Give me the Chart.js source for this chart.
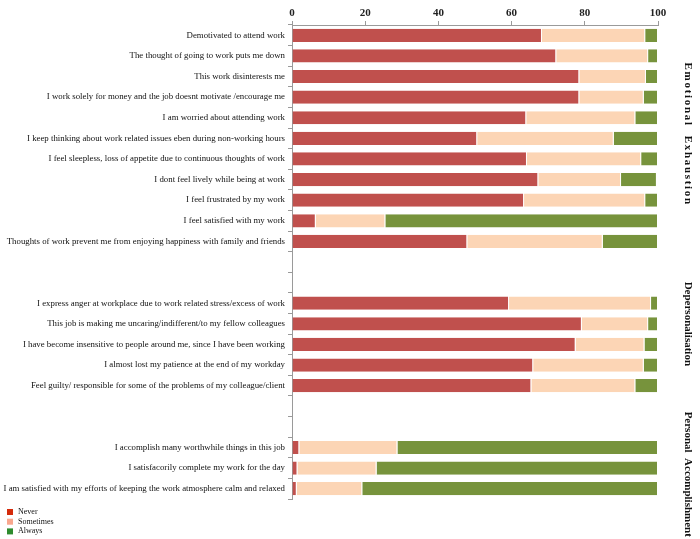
<!DOCTYPE html>
<html>
<head>
<meta charset="utf-8">
<script src="https://cdn.jsdelivr.net/npm/chart.js@4/dist/chart.umd.min.js"></script>
<style>
html,body{margin:0;padding:0;background:#fff;}
#wrap{position:relative;width:700px;height:539px;}
</style>
</head>
<body>
<div id="wrap"><canvas id="c" width="700" height="539"></canvas></div>
<script>
const categories = [
  "Demotivated to attend work",
  "The thought of going to work puts me down",
  "This work disinterests me",
  "I work solely for money and the job doesnt motivate /encourage me",
  "I am worried about attending work",
  "I keep thinking about work related issues eben during non-working hours",
  "I feel sleepless, loss of appetite due to continuous thoughts of work",
  "I dont feel lively while being at work",
  "I feel frustrated by my work",
  "I feel satisfied with my work",
  "Thoughts of work prevent me from enjoying happiness with family and friends",
  "",
  " ",
  "I express anger at workplace due to work related stress/excess of work",
  "This job is making me uncaring/indifferent/to my fellow colleagues",
  "I have become insensitive to people around me, since I have been working",
  "I almost lost my patience at the end of my workday",
  "Feel guilty/ responsible for some of the problems of my colleague/client",
  "  ",
  "   ",
  "I accomplish many worthwhile things in this job",
  "I satisfacorily complete my work for the day",
  "I am satisfied with my efforts of keeping the work atmosphere calm and relaxed"
];
const never     = [68.3, 72.2, 78.5, 78.5, 64.0, 50.6, 64.2, 67.3, 63.4, 6.5, 47.9, null, null, 59.3, 79.2, 77.5, 65.9, 65.4, null, null, 2.0, 1.5, 1.3];
const sometimes = [28.2, 25.1, 18.2, 17.6, 29.8, 37.3, 31.2, 22.6, 33.1, 19.0, 37.0, null, null, 38.8, 18.1, 18.8, 30.2, 28.4, null, null, 26.8, 21.6, 17.9];
const always    = [3.5, 2.7, 3.3, 3.9, 6.2, 12.1, 4.6, 9.8, 3.5, 74.5, 15.1, null, null, 1.9, 2.7, 3.7, 3.9, 6.2, null, null, 71.2, 76.9, 80.8];
const seriesNames = ["Never", "Sometimes", "Always"];
const groupNames = ["Emotional  Exhaustion", "Depersonalisation", "Personal  Accomplishment"];
const xTicks = [0, 20, 40, 60, 80, 100];

const barColors = ["#C0504D", "#FCD5B5", "#77933C"];
const legendColors = ["#D42B0B", "#F9A78E", "#2E8B2E"];
const groupAnchors = [4.8, 14.0, 21.3];
const groupSpacing = [1.7, 0, 0];

const serif = "'Liberation Serif', 'Times New Roman', serif";

const groupLabelPlugin = {
  id: 'groupLabels',
  afterDraw(chart) {
    const ctx = chart.ctx;
    const y = chart.scales.y;
    ctx.save();
    ctx.font = "bold 11px " + serif;
    ctx.fillStyle = "#111";
    ctx.textAlign = "center";
    ctx.textBaseline = "middle";
    groupNames.forEach((g, i) => {
      const py = y.getPixelForValue(groupAnchors[i]);
      ctx.save();
      ctx.letterSpacing = groupSpacing[i] + "px";
      ctx.translate(688, py);
      ctx.rotate(Math.PI / 2);
      ctx.fillText(g, 0, 0);
      ctx.restore();
    });
    // legend
    ctx.font = "8px " + serif;
    ctx.textAlign = "left";
    seriesNames.forEach((s, i) => {
      const ly = 512 + i * 9.7;
      ctx.fillStyle = legendColors[i];
      ctx.fillRect(7, ly - 3, 6, 6);
      ctx.fillStyle = "#111";
      ctx.fillText(s, 18, ly);
    });
    ctx.restore();
  }
};

new Chart(document.getElementById('c'), {
  type: 'bar',
  data: {
    labels: categories,
    datasets: seriesNames.map((n, i) => ({
      label: n,
      data: [never, sometimes, always][i],
      backgroundColor: barColors[i],
      borderColor: "#ffffff",
      borderWidth: {left: 0, right: 1, top: 0, bottom: 0},
      borderSkipped: false,
      barPercentage: 0.64,
      categoryPercentage: 1.0
    }))
  },
  options: {
    indexAxis: 'y',
    responsive: false,
    animation: false,
    layout: {padding: {left: 0, right: 42, top: 0, bottom: 40}},
    plugins: {
      legend: {display: false},
      tooltip: {enabled: false}
    },
    scales: {
      x: {
        position: 'top',
        stacked: true,
        min: 0, max: 100,
        afterBuildTicks(scale) { scale.ticks = xTicks.map(v => ({value: v})); },
        afterFit(scale) { scale.height = 25; },
        ticks: {
          font: {family: serif, size: 11, weight: 'bold'},
          color: "#222",
          padding: 1
        },
        grid: {drawOnChartArea: false, tickLength: 4, color: "#9a9a9a"},
        border: {color: "#9a9a9a"}
      },
      y: {
        stacked: true,
        afterFit(scale) { scale.width = 292; },
        ticks: {
          font: {family: serif, size: 8.8},
          color: "#111",
          padding: 3,
          autoSkip: false
        },
        grid: {drawOnChartArea: false, tickLength: 4, offset: true, color: "#9a9a9a"},
        border: {color: "#9a9a9a"}
      }
    }
  },
  plugins: [groupLabelPlugin]
});
</script>
</body>
</html>
